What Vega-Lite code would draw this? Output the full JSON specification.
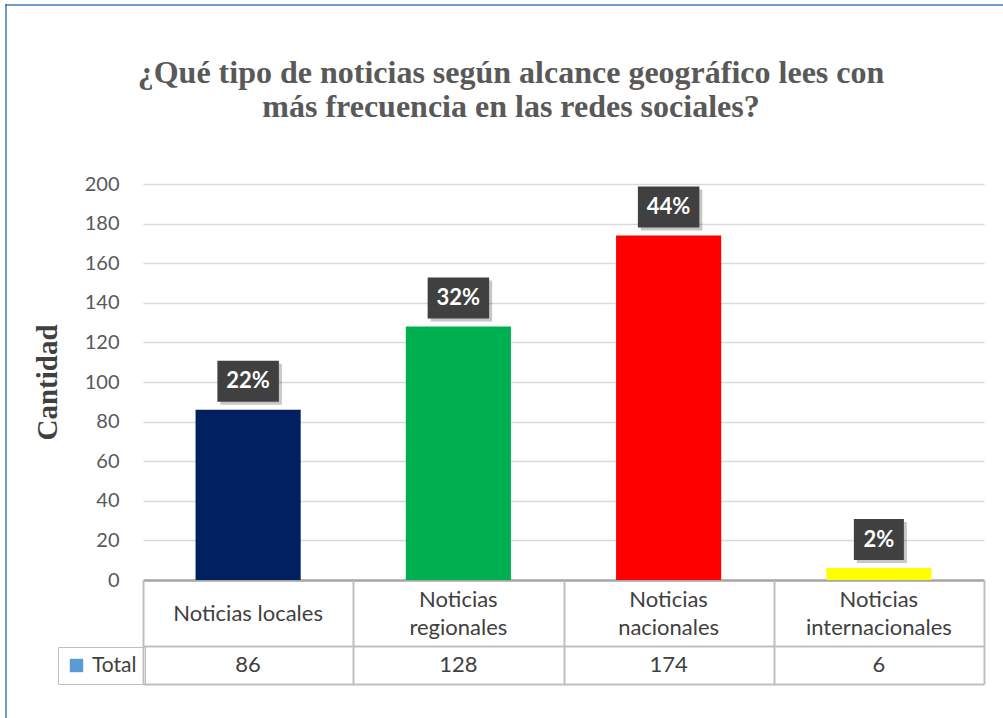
{
  "$schema": "https://vega.github.io/schema/vega-lite/v6.json",
  "width": 841,
  "height": 396,
  "padding": {"left": 5, "top": 4, "right": 0, "bottom": 0},
  "background": "white",
  "title": {
    "text": ["¿Qué tipo de noticias según alcance geográfico lees con", "más frecuencia en las redes sociales?"],
    "font": "Liberation Serif",
    "fontSize": 32,
    "fontWeight": "bold",
    "color": "#595959",
    "lineHeight": 34,
    "anchor": "middle",
    "frame": "bounds",
    "offset": -120,
    "dx": 7
  },
  "data": {
    "values": [
      {"cat": "Noticias locales", "value": 86, "pct": "22%"},
      {"cat": "Noticias regionales", "value": 128, "pct": "32%"},
      {"cat": "Noticias nacionales", "value": 174, "pct": "44%"},
      {"cat": "Noticias internacionales", "value": 6, "pct": "2%"}
    ]
  },
  "resolve": {"axis": {"x": "independent", "y": "independent"}},
  "layer": [
    {
      "mark": {"type": "bar", "width": {"band": 0.5}},
      "encoding": {
        "x": {
          "field": "cat", "type": "nominal", "sort": null,
          "scale": {"paddingInner": 0, "paddingOuter": 0},
          "axis": {
            "orient": "bottom", "title": null, "domain": true, "domainColor": "#A6A6A6", "domainWidth": 2.5,
            "ticks": false, "grid": false, "labelPadding": 33, "labelBaseline": "middle", "labelLineHeight": 28,
            "labelFont": "Lato", "labelFontSize": 22, "labelColor": "#404040", "labelAngle": 0, "labelLimit": 300,
            "labelExpr": "length(datum.label) > 16 ? '' : datum.label"
          }
        },
        "y": {
          "field": "value", "type": "quantitative",
          "scale": {"domain": [0, 200], "nice": false},
          "axis": {
            "orient": "left",
            "title": "Cantidad", "titleFont": "Liberation Serif", "titleFontSize": 29, "titleFontWeight": "bold",
            "titleColor": "#404040", "titlePadding": 22,
            "values": [0, 20, 40, 60, 80, 100, 120, 140, 160, 180, 200],
            "domain": false, "ticks": false, "labelPadding": 24, "labelFont": "Lato", "labelFontSize": 20,
            "labelColor": "#595959", "grid": true, "gridColor": "#D9D9D9", "gridWidth": 1.5
          }
        },
        "color": {
          "field": "cat", "type": "nominal", "sort": null,
          "scale": {"domain": ["Noticias locales", "Noticias regionales", "Noticias nacionales", "Noticias internacionales"],
                    "range": ["#002060", "#00B050", "#FF0000", "#FFFF00"]},
          "legend": null
        }
      }
    },
    {
      "mark": {"type": "text", "font": "Lato", "fontSize": 22, "color": "#404040", "baseline": "middle", "align": "center", "dy": 85},
      "encoding": {
        "x": {"field": "cat", "type": "nominal", "sort": null,
              "axis": {"orient": "bottom", "offset": 66, "title": null, "domain": true, "domainColor": "#BFBFBF", "domainWidth": 2, "ticks": false, "grid": false,
                       "labelPadding": -47, "labelBaseline": "middle", "labelLineHeight": 28,
                       "labelFont": "Lato", "labelFontSize": 22, "labelColor": "#404040", "labelAngle": 0, "labelLimit": 300,
                       "labelExpr": "length(datum.label) > 16 ? split(datum.label, ' ') : ''"}},
        "y": {"datum": 0, "type": "quantitative", "axis": null},
        "text": {"field": "value", "type": "quantitative"}
      }
    },
    {
      "mark": {"type": "point", "size": 1681, "filled": true, "color": "#000000", "opacity": 0.22, "xOffset": 3, "yOffset": -25.5},
      "encoding": {
        "x": {"field": "cat", "type": "nominal", "sort": null,
              "axis": {"orient": "bottom", "title": null, "domain": false, "ticks": true, "tickBand": "extent", "tickSize": 104, "tickColor": "#BFBFBF", "tickWidth": 2, "labels": false, "grid": false}},
        "y": {"field": "value", "type": "quantitative", "axis": null},
        "shape": {
          "condition": {"test": "length(datum.pct) < 3", "value": "M-1.22,-1L1.22,-1L1.22,1L-1.22,1Z"},
          "value": "M-1.5,-1L1.5,-1L1.5,1L-1.5,1Z"
        }
      }
    },
    {
      "mark": {"type": "point", "size": 1681, "filled": true, "color": "#404040", "opacity": 1, "yOffset": -28.5},
      "encoding": {
        "x": {"field": "cat", "type": "nominal", "sort": null,
              "axis": {"orient": "bottom", "offset": 104, "title": null, "domain": true, "domainColor": "#BFBFBF", "domainWidth": 2, "ticks": false, "labels": false, "grid": false}},
        "y": {"field": "value", "type": "quantitative", "axis": null},
        "shape": {
          "condition": {"test": "length(datum.pct) < 3", "value": "M-1.22,-1L1.22,-1L1.22,1L-1.22,1Z"},
          "value": "M-1.5,-1L1.5,-1L1.5,1L-1.5,1Z"
        }
      }
    },
    {
      "mark": {"type": "text", "font": "Lato", "fontSize": 22, "fontWeight": "bold", "color": "#FFFFFF", "baseline": "middle", "align": "center", "dy": -28.5},
      "encoding": {
        "x": {"field": "cat", "type": "nominal", "sort": null, "axis": null},
        "y": {"field": "value", "type": "quantitative", "axis": null},
        "text": {"field": "pct", "type": "nominal"}
      }
    },
    {
      "mark": {"type": "point", "filled": true, "color": "#5B9BD5", "size": 0, "opacity": 1},
      "encoding": {
        "x": {"field": "cat", "type": "nominal", "sort": null, "axis": null},
        "y": {"datum": 0, "type": "quantitative", "axis": null},
        "shape": {
          "datum": "Total", "type": "nominal",
          "scale": {"range": ["square"]},
          "legend": {
            "orient": "none", "legendX": -85, "legendY": 463, "title": null, "padding": 8,
            "strokeColor": "#BFBFBF", "symbolSize": 180, "symbolStrokeWidth": 0, "symbolFillColor": "#5B9BD5",
            "labelFont": "Lato", "labelFontSize": 21, "labelColor": "#404040", "labelOffset": 5,
            "encode": {"legend": {"update": {"strokeWidth": {"value": 2}}}, "symbols": {"update": {"fill": {"value": "#5B9BD5"}, "size": {"value": 180}, "opacity": {"value": 1}}}}
          }
        }
      }
    },
    {
      "mark": {"type": "point", "filled": true, "size": 0},
      "encoding": {
        "x": {"field": "cat", "type": "nominal", "sort": null, "axis": null},
        "y": {"datum": 0, "type": "quantitative", "axis": null},
        "fill": {
          "datum": 1, "type": "quantitative",
          "scale": {"domain": [0, 1], "range": ["#2E75B6", "#2E75B6"]},
          "legend": {
            "orient": "none", "legendX": -138, "legendY": -180, "direction": "vertical", "title": null, "padding": 0,
            "gradientLength": 714, "gradientThickness": 2, "gradientStrokeWidth": 0,
            "labelExpr": "''", "labelFontSize": 1, "labelOpacity": 0, "labelOffset": 0
          }
        }
      }
    },
    {
      "mark": {"type": "point", "filled": false, "size": 0},
      "encoding": {
        "x": {"field": "cat", "type": "nominal", "sort": null, "axis": null},
        "y": {"datum": 0, "type": "quantitative", "axis": null},
        "stroke": {
          "datum": 2, "type": "quantitative",
          "scale": {"domain": [0, 2], "range": ["#2E75B6", "#2E75B6"]},
          "legend": {
            "orient": "none", "legendX": -138, "legendY": -180, "direction": "horizontal", "title": null, "padding": 0,
            "gradientLength": 998, "gradientThickness": 2, "gradientStrokeWidth": 0,
            "labelExpr": "''", "labelFontSize": 1, "labelOpacity": 0, "labelOffset": 0
          }
        }
      }
    }
  ],
  "config": {
    "view": {"stroke": null}
  }
}
